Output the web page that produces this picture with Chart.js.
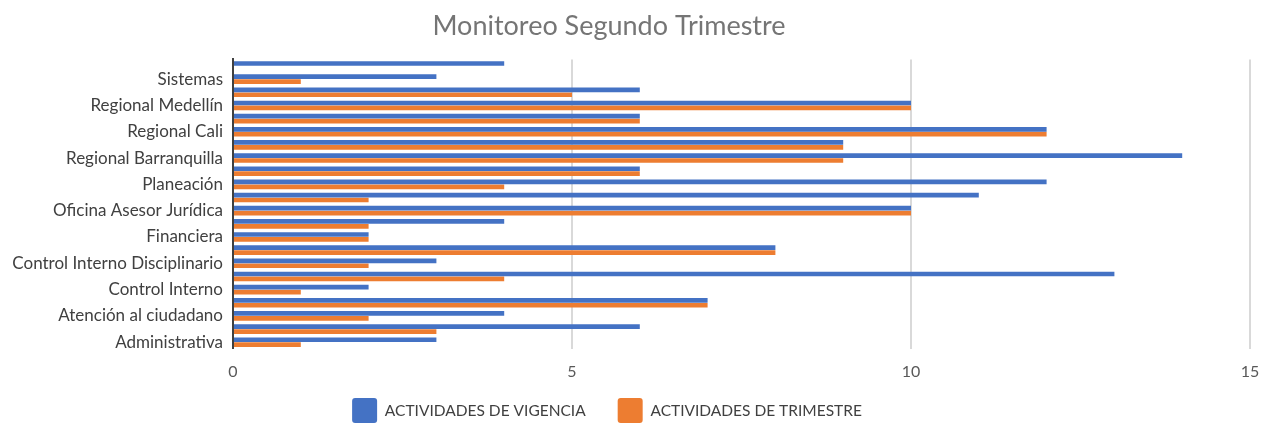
<!DOCTYPE html>
<html>
<head>
<meta charset="utf-8">
<title>Monitoreo Segundo Trimestre</title>
<script src="https://cdn.jsdelivr.net/npm/chart.js@4"></script>
<style>
  html, body { margin: 0; padding: 0; overflow: hidden; background: #fff; }
  canvas { display: block; }
</style>
</head>
<body>
<canvas id="grafico" width="1265" height="432"></canvas>
<script>
// categorias de arriba hacia abajo (las que no se leen quedan vacias)
const categorias = [
  "", "Sistemas",
  "", "Regional Medellín",
  "", "Regional Cali",
  "", "Regional Barranquilla",
  "", "Planeación",
  "", "Oficina Asesor Jurídica",
  "", "Financiera",
  "", "Control Interno Disciplinario",
  "", "Control Interno",
  "", "Atención al ciudadano",
  "", "Administrativa",
];
const vigencia = [4, 3, 6, 10, 6, 12, 9, 14, 6, 12, 11, 10, 4, 2, 8, 3, 13, 2, 7, 4, 6, 3];
const trimestre = [0, 1, 5, 10, 6, 12, 9, 9, 6, 4, 2, 10, 2, 2, 8, 2, 4, 1, 7, 2, 3, 1];
const ticksX = [0, 5, 10, 15];

const FUENTE = "Lato, 'Open Sans', sans-serif";

// acomoda titulo y leyenda como en el original
const acomodar = {
  id: "acomodar",
  afterLayout(chart) {
    chart.titleBlock.left -= 16;
    chart.titleBlock.right -= 16;
    chart.legend.left -= 18;
    chart.legend.right -= 18;
    chart.legend.top = 398 - 32;
  },
};

new Chart(document.getElementById("grafico"), {
  type: "bar",
  data: {
    labels: categorias,
    datasets: [
      {
        label: "ACTIVIDADES DE VIGENCIA",
        data: vigencia,
        backgroundColor: "#4472C4",
      },
      {
        label: "ACTIVIDADES DE TRIMESTRE",
        data: trimestre,
        backgroundColor: "#ED7D31",
      },
    ],
  },
  options: {
    indexAxis: "y",
    responsive: false,
    animation: false,
    categoryPercentage: 0.75,
    barPercentage: 0.95,
    layout: { padding: { right: 15 } },
    scales: {
      x: {
        min: 0,
        max: 15,
        afterBuildTicks: (axis) => {
          axis.ticks = ticksX.map((v) => ({ value: v }));
        },
        afterFit: (axis) => {
          axis.paddingLeft = 0;
          axis.paddingRight = 0;
        },
        border: { display: false },
        grid: {
          color: (ctx) => (ctx.tick && ctx.tick.value === 0 ? "rgba(0,0,0,0)" : "#D9D9D9"),
          lineWidth: 2,
          drawTicks: false,
        },
        ticks: {
          padding: 13,
          color: "#595959",
          font: { family: FUENTE, size: 16 },
        },
      },
      y: {
        afterFit: (axis) => {
          axis.width = 233;
        },
        border: { color: "#404040", width: 2 },
        grid: { display: false, drawTicks: false },
        ticks: {
          autoSkip: false,
          padding: 10,
          color: "#404040",
          font: { family: FUENTE, size: 17 },
        },
      },
    },
    plugins: {
      title: {
        display: true,
        text: "Monitoreo Segundo Trimestre",
        color: "#757575",
        font: { family: FUENTE, size: 27, weight: "normal" },
        padding: { top: 10, bottom: 17 },
      },
      legend: {
        position: "bottom",
        maxHeight: 38,
        labels: {
          boxWidth: 25,
          boxHeight: 25,
          useBorderRadius: true,
          borderRadius: 3,
          padding: 32,
          color: "#404040",
          font: { family: FUENTE, size: 15.5 },
        },
      },
      tooltip: { enabled: false },
    },
  },
  plugins: [acomodar],
});
</script>
</body>
</html>
